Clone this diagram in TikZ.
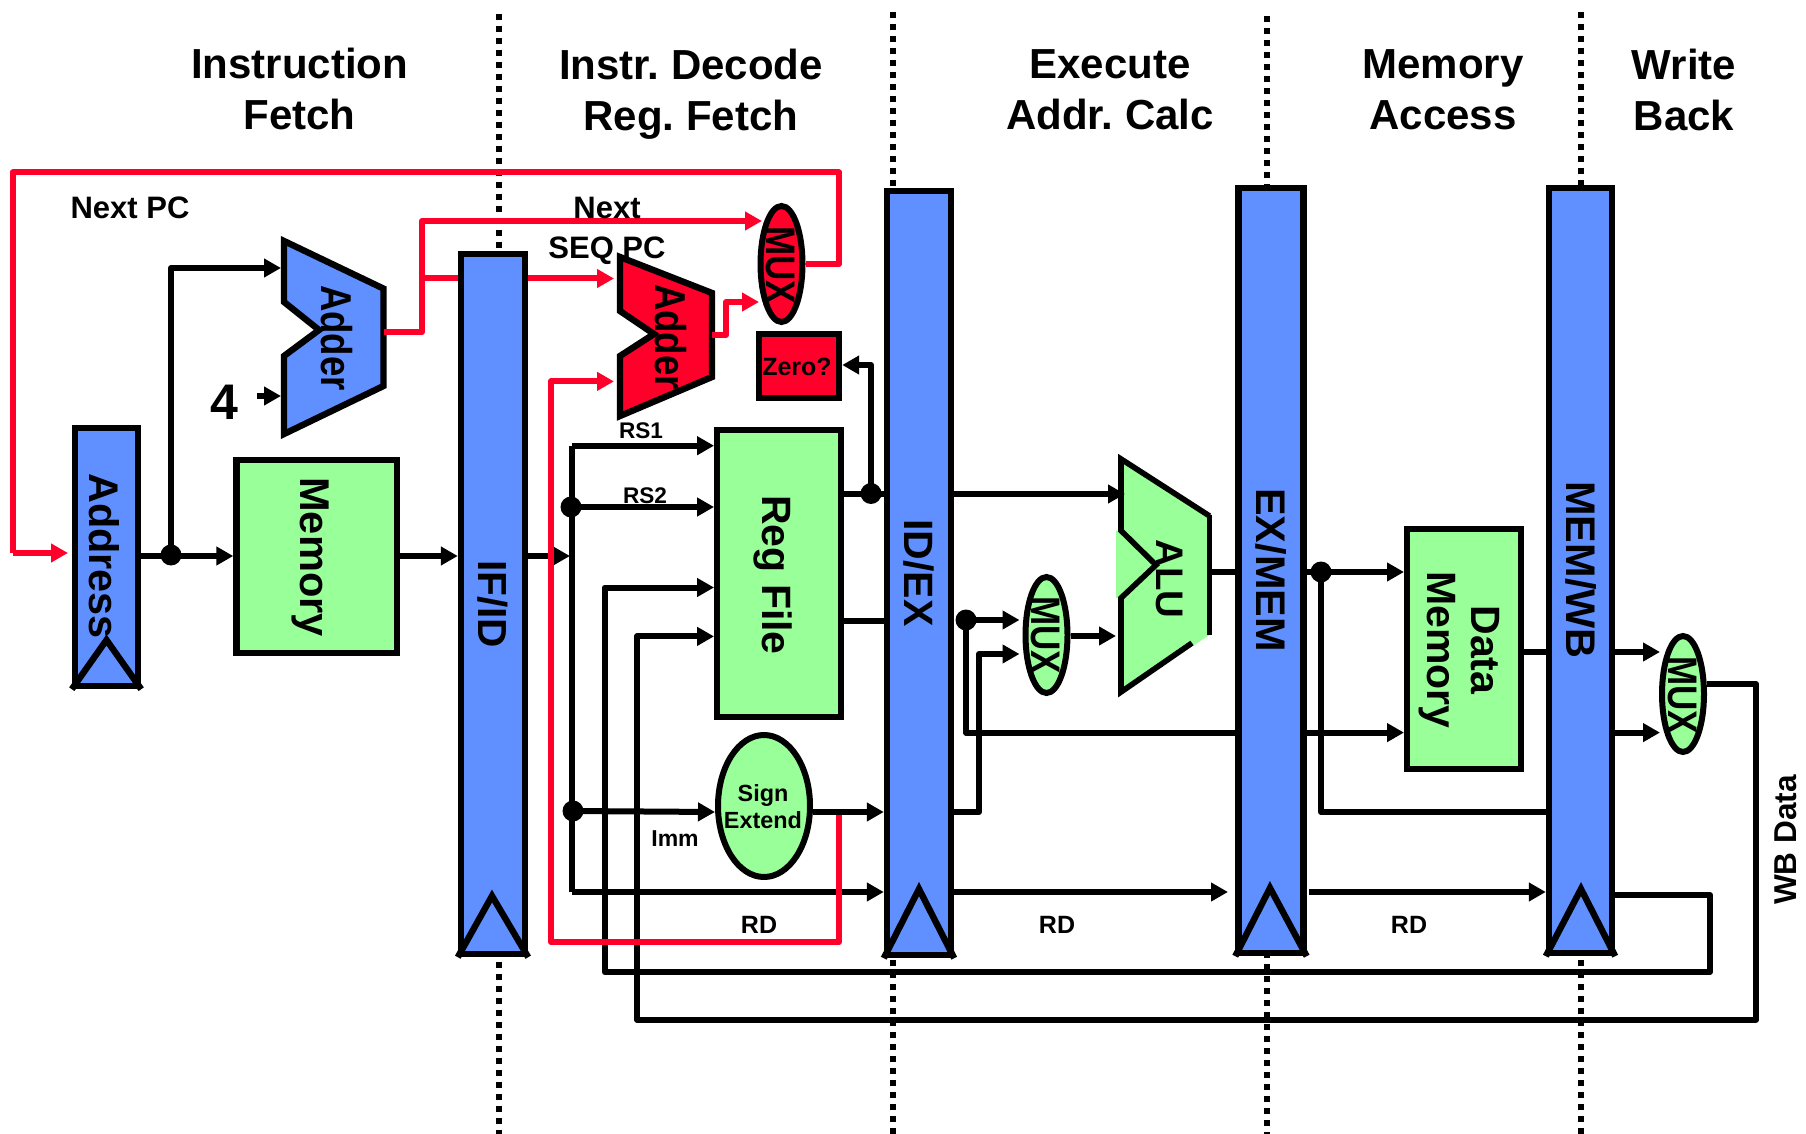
\documentclass[tikz,border=0pt]{standalone}
\usepackage{fontspec}
\setmainfont{Liberation Sans}
\usetikzlibrary{arrows.meta,shapes.geometric}
\definecolor{pblue}{HTML}{6090FF}
\definecolor{pgreen}{HTML}{99FF99}
\definecolor{pred}{HTML}{FF002B}
\newcommand\fsz[1]{\fontsize{#1}{#1}\selectfont\bfseries}
\frenchspacing
\tikzset{
  boxb/.style={draw=black,line width=3.2pt,fill=#1,inner sep=0pt},
  latch/.style={boxb=pblue,minimum width=64*0.5pt,minimum height=765*0.5pt},
  ell/.style={draw=black,line width=3pt,fill=#1,ellipse,inner sep=0pt},
  muxe/.style={ell=#1,minimum width=42*0.5pt,minimum height=116*0.5pt},
  poly/.style={draw=black,line width=3.2pt,fill=#1,line join=miter},
  clockt/.style={draw=black,line width=3.2pt,line join=miter},
  lab/.style={inner sep=0pt,text depth=0pt,text height=0.716*#1 pt,font=\fsz{#1}},
  rlab/.style={lab=#1,rotate=-90},
  tall/.style={inner sep=0pt,text depth=0pt,text height=0.716*#1*1.18 pt,font=\fsz{#1},rotate=-90},
  conn/.style={draw=black,line width=3pt,line join=round},
  redl/.style={draw=pred,line width=3pt,line join=round},
  tip/.style={-{Triangle[length=8.5pt,width=9pt]}},
  jdot/.style={circle,fill=black,inner sep=0pt,minimum size=10.5pt},
  stage/.style={draw=black,line width=3pt,dash pattern=on 3pt off 3pt},
  head/.style={inner sep=0pt,align=center,font=\fontsize{21}{25.5}\selectfont\bfseries},
  two/.style={inner sep=0pt,align=center,font=\fontsize{20.5}{22}\selectfont\bfseries,rotate=-90},
}
\newcommand\tallt[1]{\scalebox{1}[1.18]{#1}}
\begin{document}
\begin{tikzpicture}[x=0.5pt,y=-0.5pt]
\useasboundingbox (0,0) rectangle (1806,1134);
% stage separators
\coordinate (s1t) at (499,14);    \coordinate (s1b) at (499,1134);
\coordinate (s2t) at (893,12);    \coordinate (s2b) at (893,1134);
\coordinate (s3t) at (1267,16);   \coordinate (s3b) at (1267,1134);
\coordinate (s4t) at (1581,12);   \coordinate (s4b) at (1581,1134);
\draw[stage] (s1t) -- (s1b);
\draw[stage] (s2t) -- (s2b);
\draw[stage] (s3t) -- (s3b);
\draw[stage] (s4t) -- (s4b);

% blocks
\node[boxb=pblue,minimum width=63*0.5pt,minimum height=258*0.5pt] (addr) at (106.5,557) {};
\node[boxb=pgreen,minimum width=160.5*0.5pt,minimum height=193*0.5pt] (mem) at (316.75,556.5) {};
\node[latch,minimum height=700*0.5pt] (ifid) at (493,604) {};
\node[latch,minimum height=764*0.5pt] (idex) at (919,573) {};
\node[latch,minimum width=65*0.5pt] (exmem) at (1271,570.5) {};
\node[latch,minimum width=63*0.5pt] (memwb) at (1580.5,570.5) {};
\node[boxb=pgreen,minimum width=123.5*0.5pt,minimum height=287*0.5pt] (regf) at (779,573.5) {};
\node[boxb=pred,minimum width=80*0.5pt,minimum height=64*0.5pt] (zero) at (799,366) {};
\node[boxb=pgreen,minimum width=113.5*0.5pt,minimum height=240.5*0.5pt] (dmem) at (1464,649) {};
\node[ell=pgreen,minimum width=92*0.5pt,minimum height=142*0.5pt] (sext) at (764,806) {};
\node[muxe=pred] (mux0) at (781.5,264) {};
\node[muxe=pgreen] (mux1) at (1046.5,635) {};
\node[muxe=pgreen] (mux2) at (1683,694) {};

% adders and ALU
\draw[poly=pblue] (284,241) -- (383.5,288.6) -- (383.5,386) -- (284,434) -- (284,356) -- (319,330) -- (284,302) -- cycle;
\draw[poly=pred] (620,257) -- (712,293) -- (712,377) -- (620,416) -- (620,356) -- (654,334) -- (620,311) -- cycle;
\fill[pgreen] (1121,459) -- (1209.6,516) -- (1209.6,635) -- (1121,692) -- (1121,598) -- (1116,598) -- (1116,530.6) -- (1121,530.6) -- cycle;
\draw[draw=black,line width=2.8pt,line join=miter] (1209.6,516) -- (1121,459) -- (1121,530.6) -- (1156,565) -- (1121,598) -- (1121,692) -- (1192,643);
\draw[draw=black,line width=2.8pt,line join=miter] (1209.6,514.5) -- (1209.6,635);

% clock triangles
\coordinate (addrapex) at (106.5,640);
\coordinate (ifidapex) at (492,896);
\coordinate (idexapex) at (919,889);
\coordinate (exmemapex) at (1270,888);
\coordinate (memwbapex) at (1581,889);
\draw[clockt] (addr.south west) -- (addrapex) -- (addr.south east);
\draw[clockt] (ifid.south west) -- (ifidapex) -- (ifid.south east);
\draw[clockt] (idex.south west) -- (idexapex) -- (idex.south east);
\draw[clockt] (exmem.south west) -- (exmemapex) -- (exmem.south east);
\draw[clockt] (memwb.south west) -- (memwbapex) -- (memwb.south east);

% junctions
\node[jdot] (d1) at (171,555) {};
\node[jdot] (d2) at (571,507) {};
\node[jdot] (d3) at (573,811) {};
\node[jdot] (d4) at (871,493.5) {};
\node[jdot] (d5) at (966,620) {};
\node[jdot] (d6) at (1321,572) {};

% ports and corners
\coordinate (a1in) at (281,268);
\coordinate (a1in2) at (281,396);
\coordinate (four) at (257,396);
\coordinate (rs1) at (572,445.7);
\coordinate (ifout) at (570,556);
\coordinate (m1a) at (1019.5,620);
\coordinate (m1b) at (1019.5,654);
\coordinate (aluA) at (1125,494);
\coordinate (aluB) at (1116,636);
\coordinate (m2a) at (1660,652);
\coordinate (m2b) at (1660,732.6);
\coordinate (dmB) at (1404,732.6);

% black connectors
\draw[conn,tip] (addr.east |- 0,556) -- (mem.west |- 0,556);
\draw[conn,tip] (d1.center) |- (a1in);
\draw[conn,tip] (four) -- (a1in2);
\draw[conn,tip] (mem.east |- 0,556) -- (ifid.west |- 0,556);
\draw[conn,tip] (ifid.east |- 0,556) -- (ifout);
\draw[conn,tip] (rs1) -- (regf.west |- rs1);
\draw[conn,tip] (d2.center) -- (regf.west |- d2);
\draw[conn] (rs1) -- (572,892);
\draw[conn,tip] (572,892) -- (idex.west |- 0,892);
\draw[conn,tip] (d3.center) -- (sext.west |- 0,812);
\draw[conn,tip] (sext.east |- 0,812) -- (idex.west |- 0,812);
\draw[conn] (regf.east |- d4) -- (idex.west |- d4);
\draw[conn,tip] (d4.center) |- (zero.east |- 0,365);
\draw[conn] (regf.east |- 0,621) -- (idex.west |- 0,621);
\draw[conn,tip] (idex.east |- aluA) -- (aluA);
\draw[conn,tip] (d5.center) -- (m1a);
\draw[conn,tip] (idex.east |- 0,812) -| (979,654) -- (m1b);
\draw[conn,tip] (mux1.east |- aluB) -- (aluB);
\draw[conn] (d5.center) |- (exmem.west |- 0,732.6);
\draw[conn,tip] (exmem.east |- dmB) -- (dmB);
\draw[conn] (exmem.west |- d6) -- (1209.6,572);
\draw[conn] (exmem.east |- d6) -- (d6.center);
\draw[conn,tip] (d6.center) -- (dmB |- d6);
\draw[conn] (d6.center) |- (memwb.west |- 0,812);
\draw[conn] (dmem.east |- m2a) -- (memwb.west |- m2a);
\draw[conn,tip] (memwb.east |- m2a) -- (m2a);
\draw[conn,tip] (memwb.east |- m2b) -- (m2b);
\draw[conn,tip] (idex.east |- 0,892) -- (1228,892);
\draw[conn,tip] (1309,892) -- (memwb.west |- 0,892);
\draw[conn,tip] (memwb.east |- 0,895) -| (1710,972) -| (604.6,587.5) -- (regf.west |- 0,587.5);
\draw[conn,tip] (mux2.east |- 0,684) -| (1756,1019.6) -| (637,636.4) -- (regf.west |- 0,636.4);

% red connectors
\draw[redl] (mux0.east) -| (839,172.5) -| (12.6,553);
\draw[redl,tip] (12.6,553) -- (68,553);
\draw[redl,tip] (383.5,332) -| (422,221) -- (762,221);
\draw[redl] (422,278.5) -- (ifid.west |- 0,278.5);
\draw[redl,tip] (ifid.east |- 0,278.5) -- (614,278.5);
\draw[redl,tip] (712,335) -| (726,302) -- (759,302);
\draw[redl,tip] (839,815) |- (551,942) |- (614,381.4);

% labels
\node[head] (h1) at (299.5,88.5) {Instruction\\Fetch};
\node[head] (h2) at (691,94.5) {Instr. Decode\\Reg. Fetch};
\node[head] (h3) at (1110,89.5) {Execute\\Addr. Calc};
\node[head] (h4) at (1443,89.5) {Memory\\Access};
\node[head] (h5) at (1684,89.5) {Write\\Back};
\node[lab=15.5] (tnp) at (130,207) {Next PC};
\node[lab=15.5] (tnext) at (607,207) {Next};
\node[lab=15.5] (tseq) at (607,247) {SEQ PC};
\node[lab=25] (t4) at (224,402) {4};
\node[lab=11.3] (trs1) at (641,430) {RS1};
\node[lab=11.3] (trs2) at (645,495) {RS2};
\node[lab=11.5] (timm) at (675,838) {Imm};
\node[lab=12.5] (trd1) at (759,925) {RD};
\node[lab=12.5] (trd2) at (1057,925) {RD};
\node[lab=12.5] (trd3) at (1409,925) {RD};
\node[lab=12.5] (tzero) at (797,367) {Zero?};
\node[inner sep=0pt,align=center,font=\fontsize{11.7}{13.5}\selectfont\bfseries] (tsext) at (763,807) {Sign\\Extend};
\node[rlab=20.7] (taddr) at (104.5,556) {Address};
\node[rlab=20.8] (tmem) at (315,557) {Memory};
\node[tall=18.3] (tadd1) at (337,338) {\tallt{Adder}};
\node[tall=18.3] (tadd2) at (671,337) {\tallt{Adder}};
\node[rlab=20.3] (tifid) at (493.5,604) {IF/ID};
\node[rlab=20.5] (tidex) at (919,573) {ID/EX};
\node[rlab=20.7] (texmem) at (1271,570) {EX/MEM};
\node[rlab=20.7] (tmemwb) at (1581,570) {MEM/WB};
\node[rlab=20.5] (treg) at (777,575) {Reg File};
\node[rlab=19.2] (talu) at (1170.5,579) {ALU};
\node[tall=17.5] (tmux0) at (781,265) {\tallt{MUX}};
\node[tall=17.5] (tmux1) at (1046.5,635) {\tallt{MUX}};
\node[tall=17.5] (tmux2) at (1683,695) {\tallt{MUX}};
\node[two] (tdm) at (1459,650) {Data\\Memory};
\node[lab=15.8,rotate=90] (twb) at (1785,840) {WB Data};
\end{tikzpicture}
\end{document}
